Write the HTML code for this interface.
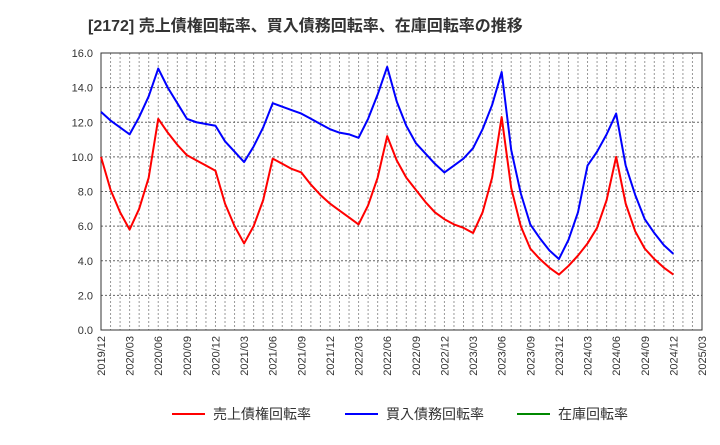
<!DOCTYPE html>
<html><head><meta charset="utf-8"><style>
body{margin:0;background:#fff;font-family:"Liberation Sans","Noto Sans CJK JP",sans-serif}
svg text{font-family:"Liberation Sans","Noto Sans CJK JP",sans-serif}
</style></head><body>
<svg id="c" width="720" height="440" xmlns="http://www.w3.org/2000/svg">
<text x="88" y="31" font-size="16" font-weight="bold" fill="#333">[2172]  売上債権回転率、買入債務回転率、在庫回転率の推移</text>
<g id="grid"></g><g id="axes"></g><g id="series"></g>
<g>
<g><line x1="172" y1="414" x2="205" y2="414" stroke="#f00" stroke-width="2"/><text x="213" y="419" font-size="14" fill="#333">売上債権回転率</text></g>
<g><line x1="345" y1="414" x2="378" y2="414" stroke="#00f" stroke-width="2"/><text x="386" y="419" font-size="14" fill="#333">買入債務回転率</text></g>
<g><line x1="517" y1="414" x2="550" y2="414" stroke="#080" stroke-width="2"/><text x="558" y="419" font-size="14" fill="#333">在庫回転率</text></g>
</g>
</svg>
<script>
const yTicks=["0.0","2.0","4.0","6.0","8.0","10.0","12.0","14.0","16.0"];
const xLabels=["2019/12","2020/03","2020/06","2020/09","2020/12","2021/03","2021/06","2021/09","2021/12","2022/03","2022/06","2022/09","2022/12","2023/03","2023/06","2023/09","2023/12","2024/03","2024/06","2024/09","2024/12","2025/03"];
const receivables=[10.0,8.1,6.8,5.8,7.0,8.8,12.2,11.4,10.7,10.1,9.8,9.5,9.2,7.3,6.0,5.0,6.0,7.5,9.9,9.6,9.3,9.1,8.4,7.8,7.3,6.9,6.5,6.1,7.2,8.8,11.2,9.8,8.8,8.1,7.4,6.8,6.4,6.1,5.9,5.6,6.8,8.8,12.3,8.2,6.0,4.7,4.1,3.6,3.2,3.7,4.3,5.0,5.9,7.5,10.0,7.3,5.7,4.7,4.1,3.6,3.2];
const payables=[12.6,12.1,11.7,11.3,12.3,13.5,15.1,14.0,13.1,12.2,12.0,11.9,11.8,10.9,10.3,9.7,10.6,11.7,13.1,12.9,12.7,12.5,12.2,11.9,11.6,11.4,11.3,11.1,12.2,13.6,15.2,13.2,11.8,10.8,10.2,9.6,9.1,9.5,9.9,10.5,11.6,13.0,14.9,10.4,7.9,6.1,5.3,4.6,4.1,5.2,6.8,9.5,10.3,11.3,12.5,9.5,7.8,6.4,5.6,4.9,4.4];
const L=101,R=702,T=53,B=330,months=63,yMax=16;
const X=i=>L+(R-L)*i/months, Y=v=>B-(B-T)*v/yMax;
const NS="http://www.w3.org/2000/svg";
function mk(tag,attrs,parent){const e=document.createElementNS(NS,tag);for(const k in attrs)e.setAttribute(k,attrs[k]);document.getElementById(parent).appendChild(e);return e;}
for(let i=1;i<months;i++){const e=mk("line",{x1:X(i),x2:X(i),y1:T,y2:B,stroke:"#999","stroke-dasharray":"2,2","stroke-width":1},"grid");

}
yTicks.forEach((t,i)=>{const v=parseFloat(t);const y=Y(v);
if(i>0&&i<yTicks.length-1){const g=mk("line",{x1:L,x2:R,y1:y,y2:y,stroke:"#666","stroke-dasharray":"2,2","stroke-width":1},"grid");

}
const tx=mk("text",{x:L-8,y:y+4,"font-size":11,"text-anchor":"end",fill:"#333"},"axes");tx.textContent=t;

});
xLabels.forEach((t,i)=>{const x=X(i*3);const tx=mk("text",{x:0,y:0,"font-size":11,"text-anchor":"end",fill:"#333",transform:`translate(${x+4},${B+6}) rotate(-90)`},"axes");tx.textContent=t;

});
const fr=mk("rect",{x:L,y:T,width:R-L,height:B-T,fill:"none",stroke:"#333","stroke-width":1},"axes");


function line(d,c,n){const p=mk("polyline",{points:d.map((v,i)=>X(i)+","+Y(v)).join(" "),fill:"none",stroke:c,"stroke-width":2,"stroke-linejoin":"round"},"series");

}
line(receivables,"#f00","receivables-turnover-line");
line(payables,"#00f","payables-turnover-line");
</script>
</body></html>
